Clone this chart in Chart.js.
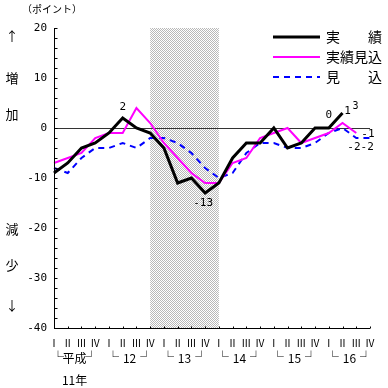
<!DOCTYPE html>
<html>
<head>
<meta charset="utf-8">
<script src="https://cdn.jsdelivr.net/npm/chart.js@4/dist/chart.umd.min.js"></script>
<style>
  html, body { margin: 0; padding: 0; background: #fff; }
  #wrap { width: 388px; height: 388px; }
</style>
</head>
<body>
<div id="wrap"><canvas id="bsi"></canvas></div>
<script>
// 四半期ラベル
var quarters = ['Ⅰ','Ⅱ','Ⅲ','Ⅳ','Ⅰ','Ⅱ','Ⅲ','Ⅳ','Ⅰ','Ⅱ','Ⅲ','Ⅳ',
                'Ⅰ','Ⅱ','Ⅲ','Ⅳ','Ⅰ','Ⅱ','Ⅲ','Ⅳ','Ⅰ','Ⅱ','Ⅲ','Ⅳ'];
var years = ['平成', '12', '13', '14', '15', '16'];
var yTicks = [20, 10, 0, -10, -20, -30, -40];

// 系列データ（ポイント）
var jisseki = [-9, -7, -4, -3, -1, 2, 0, -1, -4, -11, -10, -13, -11, -6, -3, -3, 0, -4, -3, 0, 0, 3];
var jissekiMikomi = [-7, -6, -5, -2, -1, -1, 4, 1, -3, -6, -9, -11, -11, -7, -6, -2, -1, 0, -3, -2, -1, 1, -1];
var mikomi = [-8, -9, -6, -4, -4, -3, -4, -2, -2, -3, -5, -8, -10, -9, -5, -3, -3, -4, -4, -3, -1, 0, -2, -2];

// 景気後退期（網掛け）: 12年Ⅳ ～ 14年Ⅰ
var shadeFrom = 7, shadeTo = 12;

var monoFont = '11px "DejaVu Sans Mono", monospace';
var jpFont = '"Noto Sans CJK JP", sans-serif';

// 網掛けパターン
function makePattern(ctx) {
    var c = document.createElement('canvas');
    c.width = 2; c.height = 2;
    var p = c.getContext('2d');
    p.fillStyle = '#ffffff';
    p.fillRect(0, 0, 2, 2);
    p.fillStyle = '#b8b8b8';
    p.fillRect(0, 0, 1, 1);
    p.fillRect(1, 1, 1, 1);
    return ctx.createPattern(c, 'repeat');
}

var shadePlugin = {
    id: 'shade',
    beforeDatasetsDraw: function(chart) {
        var ctx = chart.ctx, x = chart.scales.x, y = chart.scales.y;
        var x0 = x.getPixelForValue(shadeFrom), x1 = x.getPixelForValue(shadeTo);
        ctx.save();
        ctx.fillStyle = makePattern(ctx);
        ctx.fillRect(x0, y.top, x1 - x0, y.bottom - y.top);
        // ゼロ線
        ctx.strokeStyle = '#333';
        ctx.lineWidth = 1;
        var y0 = Math.round(y.getPixelForValue(0)) + 0.5;
        ctx.beginPath();
        ctx.moveTo(x.left, y0);
        ctx.lineTo(x.right, y0);
        ctx.stroke();
        ctx.restore();
    }
};

var axesPlugin = {
    id: 'axesText',
    afterDraw: function(chart) {
        var ctx = chart.ctx, x = chart.scales.x, y = chart.scales.y;
        ctx.save();
        ctx.strokeStyle = '#000';
        ctx.fillStyle = '#000';
        ctx.lineWidth = 1;

        // 縦軸
        var ax = Math.round(x.left) + 0.5;
        ctx.beginPath();
        ctx.moveTo(ax, y.top);
        ctx.lineTo(ax, y.bottom);
        for (var v = -40; v <= 20; v += 2) {
            var py = Math.round(y.getPixelForValue(v)) + 0.5;
            ctx.moveTo(ax, py);
            ctx.lineTo(ax + 3, py);
        }
        // 横軸
        var by = Math.round(y.bottom) + 0.5;
        ctx.moveTo(x.left, by);
        ctx.lineTo(x.right, by);
        for (var i = 0; i < quarters.length; i++) {
            var px = Math.round(x.getPixelForValue(i)) + 0.5;
            ctx.moveTo(px, by);
            ctx.lineTo(px, by - 2);
        }
        ctx.stroke();

        // 縦軸目盛ラベル
        ctx.font = monoFont;
        ctx.textAlign = 'right';
        ctx.textBaseline = 'middle';
        yTicks.forEach(function(t) {
            ctx.fillText(String(t), x.left - 7, y.getPixelForValue(t));
        });

        // 四半期ラベル
        ctx.font = '10px ' + jpFont;
        ctx.textAlign = 'center';
        quarters.forEach(function(q, i) {
            ctx.fillText(q, x.getPixelForValue(i), 343);
        });

        // 年ラベル
        ctx.font = '12px ' + jpFont;
        years.forEach(function(label, k) {
            var xi = x.getPixelForValue(k * 4);
            var xe = x.getPixelForValue(k * 4 + 3);
            ctx.textAlign = 'left';
            ctx.fillText('└', xi - 2, 357);
            ctx.textAlign = 'right';
            ctx.fillText('┘', xe + 2, 357);
            ctx.textAlign = 'center';
            ctx.fillText(label, (xi + xe) / 2, 358);
        });
        ctx.fillText('11年', (x.getPixelForValue(0) + x.getPixelForValue(3)) / 2, 380);

        // 単位・増減
        ctx.font = '10px ' + jpFont;
        ctx.textAlign = 'left';
        ctx.fillText('（ポイント）', 22, 9);
        ctx.font = '13px ' + jpFont;
        ctx.textAlign = 'center';
        [['↑', 36], ['増', 78], ['加', 114], ['減', 229], ['少', 265], ['↓', 305]].forEach(function(s) {
            ctx.fillText(s[0], 12, s[1]);
        });

        // 数値ラベル
        ctx.font = monoFont;
        function lab(txt, idx, val, dx, dy, align) {
            ctx.textAlign = align || 'center';
            ctx.fillText(txt, x.getPixelForValue(idx) + dx, y.getPixelForValue(val) + dy);
        }
        lab('2', 5, jisseki[5], 0, -11);
        lab('-13', 11, jisseki[11], -2, 10);
        lab('0', 20, jisseki[20], 0, -13);
        lab('1', 21, jissekiMikomi[21], 5, -12);
        ctx.font = '10px "DejaVu Sans Mono", monospace';
        lab('3', 21, jisseki[21], 13, -7);
        ctx.font = monoFont;
        lab('-1', 22, jissekiMikomi[22], 5, 1, 'left');
        lab('-2-2', 22, mikomi[22], -9, 9, 'left');

        // 凡例
        var items = [
            { text: '実　　績', color: '#000', width: 3, dash: [] },
            { text: '実績見込', color: '#ff00ff', width: 2, dash: [] },
            { text: '見　　込', color: '#0000ff', width: 2, dash: [6, 5] }
        ];
        items.forEach(function(it, k) {
            var ly = 37 + k * 20;
            ctx.strokeStyle = it.color;
            ctx.lineWidth = it.width;
            ctx.setLineDash(it.dash);
            ctx.beginPath();
            ctx.moveTo(273, ly);
            ctx.lineTo(320, ly);
            ctx.stroke();
            ctx.setLineDash([]);
            ctx.font = '14px ' + jpFont;
            ctx.textAlign = 'left';
            ctx.fillStyle = '#000';
            ctx.fillText(it.text, 326, ly);
        });
        ctx.restore();
    }
};

var ctx = document.getElementById('bsi').getContext('2d');
var bsiChart = new Chart(ctx, {
    type: 'line',
    data: {
        labels: quarters,
        datasets: [{
            label: '実績',
            data: jisseki,
            borderColor: '#000000',
            borderWidth: 3,
            pointRadius: 0,
            tension: 0
        }, {
            label: '実績見込',
            data: jissekiMikomi,
            borderColor: '#ff00ff',
            borderWidth: 2,
            pointRadius: 0,
            tension: 0
        }, {
            label: '見込',
            data: mikomi,
            borderColor: '#0000ff',
            borderWidth: 2,
            borderDash: [6, 5],
            pointRadius: 0,
            tension: 0
        }]
    },
    options: {
        responsive: true,
        maintainAspectRatio: false,
        animation: false,
        layout: { padding: { left: 54, right: 18, top: 28, bottom: 60 } },
        scales: {
            x: { display: false, offset: false },
            y: { display: false, min: -40, max: 20 }
        },
        plugins: {
            legend: { display: false },
            tooltip: { enabled: false }
        }
    },
    plugins: [shadePlugin, axesPlugin]
});
</script>
</body>
</html>
